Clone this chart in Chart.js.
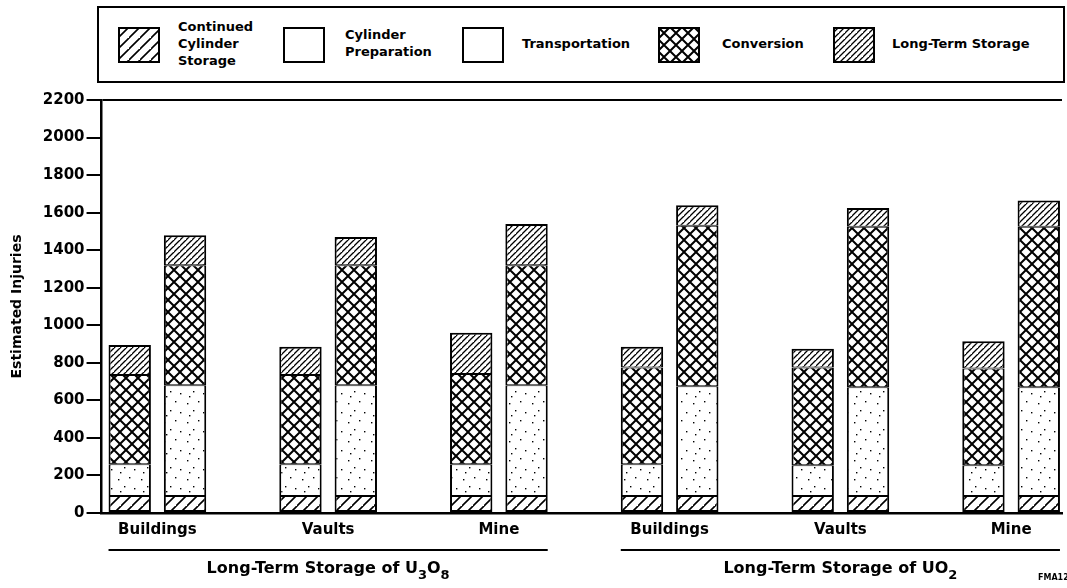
<!DOCTYPE html>
<html>
<head>
<meta charset="utf-8">
<script src="https://cdn.jsdelivr.net/npm/chart.js@4.4.1/dist/chart.umd.min.js"></script>
<style>
  body { margin: 0; background: #fff; }
  #wrap { position: relative; width: 1067px; height: 588px; overflow: hidden; font-family: 'DejaVu Sans', sans-serif; }
  #chart { position: absolute; left: 0; top: 0; }
  #legend { position: absolute; left: 97px; top: 6px; width: 964px; height: 73px; border: 2px solid #000; background: #fff; }
  #legend canvas { position: absolute; top: 19px; }
  #legend .lbl { position: absolute; font-weight: bold; font-size: 13px; line-height: 17px; color: #000; white-space: pre-line; }
</style>
</head>
<body>
<div id="wrap">
  <canvas id="chart" width="1067" height="588"></canvas>
  <div id="legend"></div>
</div>
<script>
// categories (three storage options for each of the two final forms)
const groups = ['Buildings', 'Vaults', 'Mine', 'Buildings', 'Vaults', 'Mine'];
const groupTitles = [
  [['Long-Term Storage of U', false], ['3', true], ['O', false], ['8', true]],
  [['Long-Term Storage of UO', false], ['2', true]]
];
const groupSpans = [[0, 2], [3, 5]];

const seriesNames = ['Continued\nCylinder\nStorage', 'Cylinder\nPreparation', 'Transportation', 'Conversion', 'Long-Term Storage'];

// left bar of each pair
const ccsLeft   = [90, 90, 90, 90, 90, 90];
const prepLeft  = [170, 170, 170, 170, 165, 165];
const transLeft = [0, 0, 0, 0, 0, 0];
const convLeft  = [475, 475, 480, 515, 520, 515];
const ltsLeft   = [160, 150, 220, 110, 100, 145];

// right bar of each pair
const ccsRight   = [90, 90, 90, 90, 90, 90];
const prepRight  = [590, 590, 590, 585, 580, 580];
const transRight = [0, 0, 0, 0, 0, 0];
const convRight  = [640, 640, 640, 855, 855, 855];
const ltsRight   = [160, 150, 220, 110, 100, 140];

const yMax = 2200;
const yStep = 200;

// ---- fill patterns ----
function makeTile(w, h, draw) {
  const c = document.createElement('canvas');
  c.width = w; c.height = h;
  const g = c.getContext('2d');
  g.fillStyle = '#fff';
  g.fillRect(0, 0, w, h);
  g.strokeStyle = '#000';
  g.fillStyle = '#000';
  draw(g, w, h);
  return c;
}
function hatch(step, lw) {
  return makeTile(step, step, (g, w, h) => {
    g.lineWidth = lw;
    g.beginPath();
    g.moveTo(-1, h + 1); g.lineTo(w + 1, -1);
    g.moveTo(-w - 1, h + 1); g.lineTo(1, -1);
    g.moveTo(w - 1, 2 * h + 1); g.lineTo(2 * w + 1, h - 1);
    g.stroke();
  });
}
const tiles = {
  wide: hatch(11, 1.6),
  fine: hatch(6, 1.3),
  cross: makeTile(12, 12, (g, w, h) => {
    g.lineWidth = 2;
    g.beginPath();
    g.moveTo(0, 0); g.lineTo(w, h);
    g.moveTo(w, 0); g.lineTo(0, h);
    g.stroke();
  }),
  dots: makeTile(23, 19, (g) => {
    [[3, 4], [14, 2], [9, 11], [19, 13], [5, 16]].forEach(p => g.fillRect(p[0], p[1], 1.4, 1.4));
  }),
  blank: makeTile(4, 4, () => {})
};

const ctx = document.getElementById('chart').getContext('2d');
const pat = {};
Object.keys(tiles).forEach(k => { pat[k] = ctx.createPattern(tiles[k], 'repeat'); });

const seriesFill = [pat.wide, pat.dots, pat.blank, pat.cross, pat.fine];
const seriesTiles = [tiles.wide, tiles.blank, tiles.blank, tiles.cross, tiles.fine];
const leftSets = [ccsLeft, prepLeft, transLeft, convLeft, ltsLeft];
const rightSets = [ccsRight, prepRight, transRight, convRight, ltsRight];

// inner edges are 1px on each side so neighbours meet in a 2px line
const seriesBorder = [
  { left: 2, right: 2, top: 1, bottom: 2 },
  { left: 2, right: 2, top: 1, bottom: 1 },
  0,
  { left: 2, right: 2, top: 1, bottom: 1 },
  { left: 2, right: 2, top: 2, bottom: 1 }
];
function toPoints(arr) { return arr.map((v, i) => ({ x: i, y: v })); }

const datasets = [];
seriesNames.forEach((name, s) => {
  [['a', leftSets[s]], ['b', rightSets[s]]].forEach(([stack, vals]) => {
    datasets.push({
      label: name.replace(/\n/g, ' '),
      stack: stack,
      data: toPoints(vals),
      backgroundColor: seriesFill[s],
      borderColor: '#000',
      borderWidth: seriesBorder[s],
      borderSkipped: false
    });
  });
});

// ---- legend (html) ----
const legendX = [19, 184, 363, 559, 734];
const legendTextX = [79, 246, 423, 623, 793];
const legendTextY = [10, 18, 27, 27, 27];
const legend = document.getElementById('legend');
seriesNames.forEach((name, s) => {
  const c = document.createElement('canvas');
  c.width = 42; c.height = 36;
  c.style.left = legendX[s] + 'px';
  const g = c.getContext('2d');
  g.fillStyle = g.createPattern(seriesTiles[s], 'repeat');
  g.fillRect(0, 0, 42, 36);
  g.strokeStyle = '#000';
  g.lineWidth = 2;
  g.strokeRect(1, 1, 40, 34);
  legend.appendChild(c);
  const t = document.createElement('div');
  t.className = 'lbl';
  t.textContent = name;
  t.style.left = legendTextX[s] + 'px';
  t.style.top = legendTextY[s] + 'px';
  legend.appendChild(t);
});

// ---- group titles under the x axis ----
const groupLabels = {
  id: 'groupLabels',
  afterDraw(chart) {
    const c = chart.ctx;
    const metaL = chart.getDatasetMeta(0);
    const metaR = chart.getDatasetMeta(1);
    const base = chart.chartArea.bottom;
    c.save();
    groupSpans.forEach((span, g) => {
      const a = metaL.data[span[0]];
      const b = metaR.data[span[1]];
      const x0 = a.x - a.width / 2;
      const x1 = b.x + b.width / 2;
      c.strokeStyle = '#000';
      c.lineWidth = 2;
      c.beginPath();
      c.moveTo(x0, base + 37);
      c.lineTo(x1, base + 37);
      c.stroke();

      const mainFont = 'bold 16px "DejaVu Sans"';
      const subFont = 'bold 13px "DejaVu Sans"';
      let total = 0;
      groupTitles[g].forEach(([txt, sub]) => {
        c.font = sub ? subFont : mainFont;
        total += c.measureText(txt).width;
      });
      let x = (x0 + x1) / 2 - total / 2;
      c.fillStyle = '#000';
      c.textBaseline = 'middle';
      c.textAlign = 'left';
      groupTitles[g].forEach(([txt, sub]) => {
        c.font = sub ? subFont : mainFont;
        c.fillText(txt, x, base + (sub ? 63 : 56));
        x += c.measureText(txt).width;
      });
    });
    c.font = 'bold 8px "DejaVu Sans"';
    c.fillText('FMA1290', 1038, 578);
    c.restore();
  }
};

Chart.defaults.font.family = "'DejaVu Sans', sans-serif";
Chart.defaults.color = '#000';

new Chart(ctx, {
  type: 'bar',
  data: { datasets: datasets },
  plugins: [groupLabels],
  options: {
    responsive: false,
    animation: false,
    categoryPercentage: 0.648,
    barPercentage: 0.766,
    layout: { padding: { left: 9, right: 5, top: 100, bottom: 49 } },
    plugins: {
      legend: { display: false },
      tooltip: { enabled: false }
    },
    scales: {
      x: {
        type: 'linear',
        offset: false,
        stacked: true,
        min: -0.327,
        max: 5.298,
        afterBuildTicks: (scale) => { scale.ticks = groups.map((g, i) => ({ value: i })); },
        ticks: {
          autoSkip: false,
          maxRotation: 0,
          padding: 0,
          font: { size: 15, weight: 'bold' },
          callback: (v) => groups[v]
        },
        grid: { display: false },
        border: { color: '#000', width: 2.5 }
      },
      y: {
        stacked: true,
        min: 0,
        max: yMax,
        ticks: {
          stepSize: yStep,
          padding: 2,
          font: { size: 15, weight: 'bold' },
          callback: (v) => String(v)
        },
        grid: {
          drawOnChartArea: true,
          tickLength: 15,
          tickWidth: 2,
          tickColor: '#000',
          lineWidth: 2,
          color: (c) => (c.tick && c.tick.value === yMax) ? '#000' : 'rgba(0,0,0,0)'
        },
        border: { color: '#000', width: 2.5 },
        title: {
          display: true,
          text: 'Estimated Injuries',
          font: { size: 14, weight: 'bold' },
          padding: { top: 0, bottom: 15 }
        }
      }
    }
  }
});
</script>
</body>
</html>
